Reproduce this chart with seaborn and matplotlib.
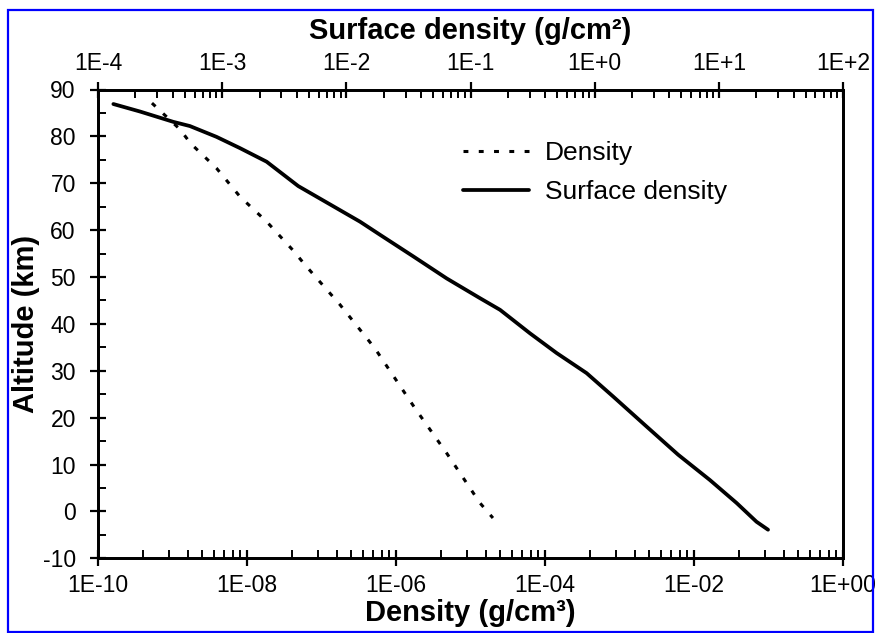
import numpy as np
import seaborn as sns
import matplotlib.pyplot as plt
from matplotlib.patches import Rectangle
from matplotlib.ticker import FixedLocator, FixedFormatter, LogLocator, NullFormatter, MultipleLocator

# Density profile (bottom axis, g/cm3) vs altitude (km)
density_alt = [87.1, 81.5, 78.5, 73.2, 67.1, 61.8, 55.6, 52.6, 44.1, 34.8, 22.0, 12.4, 1.8, -1.4]
density = [5.3e-10, 1.26e-9, 1.75e-9, 3.9e-9, 8.1e-9, 1.84e-8, 4.2e-8, 6.0e-8,
           1.77e-7, 5.2e-7, 1.8e-6, 4.8e-6, 1.34e-5, 2.0e-5]

# Surface density profile (top axis, g/cm2) vs altitude (km)
surface_alt = [86.9, 85.3, 83.1, 82.2, 79.9, 77.5, 74.6, 69.4, 61.8, 59.0, 54.4, 49.7,
               45.5, 43.0, 38.0, 33.8, 29.5, 24.5, 18.1, 12.1, 6.7, 1.8, -2.2, -3.9]
surface_density = [1.33e-4, 2.18e-4, 4.04e-4, 5.5e-4, 9.0e-4, 1.39e-3, 2.28e-3, 4.1e-3,
                   1.29e-2, 1.87e-2, 3.46e-2, 6.43e-2, 0.119, 0.173, 0.301, 0.493, 0.861,
                   1.41, 2.62, 4.70, 8.47, 13.9, 20.1, 24.9]

bottom_ticks = [1e-10, 1e-8, 1e-6, 1e-4, 1e-2, 1e0]
bottom_labels = ["1E-10", "1E-08", "1E-06", "1E-04", "1E-02", "1E+00"]
top_ticks = [1e-4, 1e-3, 1e-2, 1e-1, 1e0, 1e1, 1e2]
top_labels = ["1E-4", "1E-3", "1E-2", "1E-1", "1E+0", "1E+1", "1E+2"]
legend_labels = ["Density", "Surface density"]

sns.set_style("ticks")
plt.rcParams["font.family"] = ["Liberation Sans", "DejaVu Sans"]
plt.rcParams["text.color"] = "black"
plt.rcParams["axes.labelcolor"] = "black"
plt.rcParams["axes.unicode_minus"] = False

W, H = 875, 633
fig = plt.figure(figsize=(W / 100, H / 100), dpi=100)
left, right, top, bottom = 98, 843, 89.5, 558.3
ax = fig.add_axes([left / W, 1 - bottom / H, (right - left) / W, (bottom - top) / H])

sns.lineplot(x=density, y=density_alt, ax=ax, color="black", lw=2.2,
             linestyle=(0, (1.6, 3.4)), sort=False, estimator=None)
ax.set_xscale("log")
ax.set_xlim(1e-10, 1)
ax.set_ylim(-10, 90)

ax_top = ax.twiny()
sns.lineplot(x=surface_density, y=surface_alt, ax=ax_top, color="black", lw=2.7,
             sort=False, estimator=None)
ax_top.set_xscale("log")
ax_top.set_xlim(1e-4, 1e2)

# ticks
ax.xaxis.set_major_locator(FixedLocator(bottom_ticks))
ax.xaxis.set_major_formatter(FixedFormatter(bottom_labels))
minor = [10.0 ** e * k ** 2 for e in range(-10, 0, 2) for k in range(2, 10)]
ax.xaxis.set_minor_locator(FixedLocator(minor))
ax.xaxis.set_minor_formatter(NullFormatter())
ax_top.xaxis.set_major_locator(FixedLocator(top_ticks))
ax_top.xaxis.set_major_formatter(FixedFormatter(top_labels))
ax_top.xaxis.set_minor_locator(LogLocator(base=10, subs=np.arange(2, 10), numticks=20))
ax_top.xaxis.set_minor_formatter(NullFormatter())
ax.yaxis.set_major_locator(MultipleLocator(10))
ax.yaxis.set_minor_locator(MultipleLocator(5))

for a in (ax, ax_top):
    for s in a.spines.values():
        s.set_linewidth(2)
        s.set_color("black")
    a.tick_params(which="major", direction="inout", length=12, width=1.6,
                  labelsize=16.5, color="black", labelcolor="black")
    a.tick_params(which="minor", direction="in", length=5.5, width=1.4, color="black")
ax.tick_params(axis="x", which="major", pad=5.5)
ax.tick_params(axis="y", which="major", pad=10)
ax_top.tick_params(axis="x", which="major", pad=4.5)
ax.tick_params(axis="y", which="both", right=False)
ax_top.tick_params(axis="y", which="both", right=False, left=False, labelleft=False, labelright=False)

ax.set_xlabel("Density (g/cm³)", fontsize=21, fontweight="bold", labelpad=1.5)
ax.set_ylabel("Altitude (km)", fontsize=21, fontweight="bold", labelpad=2)
ax_top.set_xlabel("Surface density (g/cm²)", fontsize=21, fontweight="bold", labelpad=9)

handles = [ax.get_lines()[0], ax_top.get_lines()[0]]
ax_top.legend(handles, legend_labels, loc="upper left", frameon=False,
              bbox_to_anchor=(463 / W, 1 - 141 / H), bbox_transform=fig.transFigure,
              fontsize=19, handlelength=2.5, handletextpad=0.6, labelspacing=0.58,
              borderpad=0, borderaxespad=0)

fig.add_artist(Rectangle((8 / W, 1 - 632 / H), (873 - 8) / W, (632 - 9.5) / H,
                         transform=fig.transFigure, fill=False, edgecolor="#0000ff",
                         lw=1.6, zorder=10))

fig.savefig("out.png", dpi=100)
